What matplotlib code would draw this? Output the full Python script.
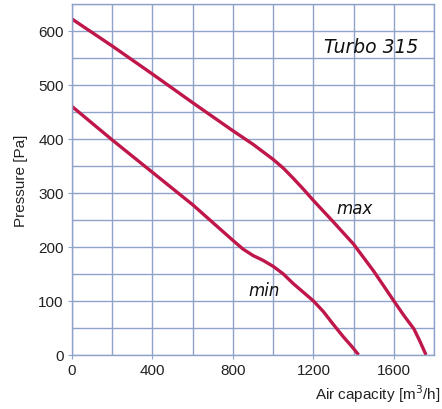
import matplotlib.pyplot as plt
import numpy as np

plt.rcParams["font.family"] = ["Liberation Sans", "DejaVu Sans"]

# 风量-压力曲线
flow_max = [0, 200, 400, 600, 800, 900, 1000, 1050, 1100, 1150, 1200, 1300, 1400, 1500, 1600, 1650, 1700, 1730, 1760]
pres_max = [622, 572, 520, 467, 415, 390, 362, 346, 327, 307, 286, 246, 205, 155, 100, 73, 48, 25, 0]

flow_min = [0, 200, 400, 600, 800, 850, 900, 950, 1000, 1050, 1100, 1150, 1200, 1250, 1300, 1350, 1390, 1425]
pres_min = [460, 398, 338, 278, 212, 196, 184, 175, 164, 150, 132, 116, 100, 80, 56, 33, 16, 0]

x_ticks = [0, 400, 800, 1200, 1600]
y_ticks = [0, 100, 200, 300, 400, 500, 600]

line_color = "#c0174a"
grid_color = "#8fa2c9"
text_color = "#222222"

fig = plt.figure(figsize=(4.42, 4.10), dpi=100)
ax = fig.add_axes([0.163, 0.132, 0.819, 0.856])

ax.plot(flow_max, pres_max, color=line_color, linewidth=2.4, solid_capstyle="butt",
        solid_joinstyle="round")
ax.plot(flow_min, pres_min, color=line_color, linewidth=2.4, solid_capstyle="butt",
        solid_joinstyle="round")

ax.set_xlim(0, 1800)
ax.set_ylim(0, 650)
ax.set_xticks(x_ticks)
ax.set_yticks(y_ticks)
ax.set_xticks(np.arange(0, 1801, 200), minor=True)
ax.set_yticks(np.arange(0, 651, 50), minor=True)
ax.grid(True, which="both", color=grid_color, linewidth=1.0)
ax.set_axisbelow(True)
ax.tick_params(which="minor", length=0)
ax.tick_params(which="major", length=3, color=grid_color, labelsize=11,
               labelcolor=text_color, pad=3)
for s in ax.spines.values():
    s.set_color(grid_color)
    s.set_linewidth(1.0)

ax.set_ylabel("Pressure [Pa]", fontsize=11, color=text_color, labelpad=7)
fig.text(0.995, 0.012, "Air capacity [m$^3$/h]", ha="right", va="bottom",
         fontsize=11, color=text_color)

ax.text(1487, 572, "Turbo 315", fontsize=13.5, style="italic", ha="center",
        va="center", color="#111111", family="DejaVu Sans")
ax.text(1403, 272, "max", fontsize=12, style="italic", ha="center", va="center",
        color="#111111", family="DejaVu Sans")
ax.text(955, 120, "min", fontsize=12, style="italic", ha="center", va="center",
        color="#111111", family="DejaVu Sans")

fig.savefig("out.png", dpi=100)
